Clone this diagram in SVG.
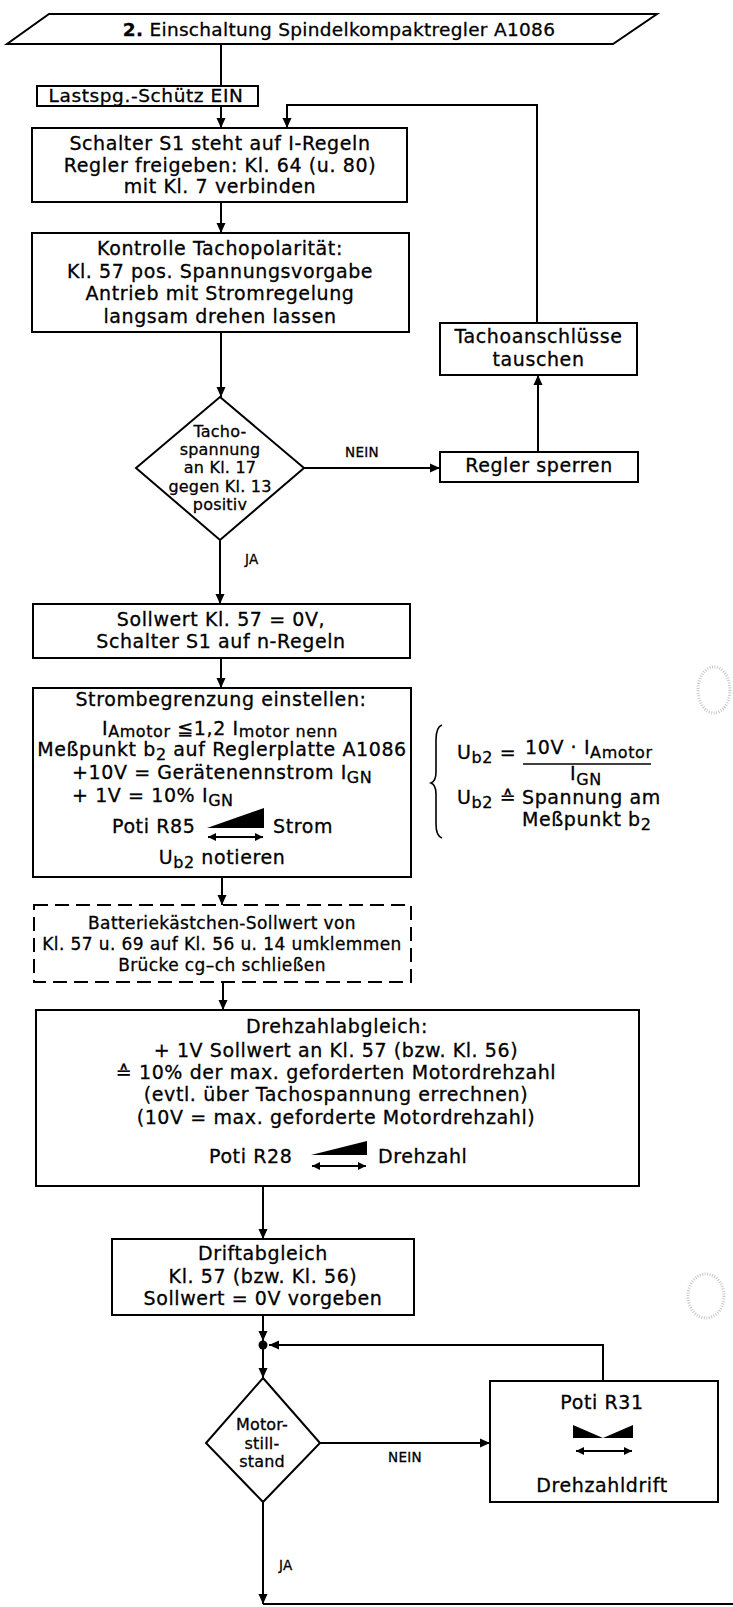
<svg xmlns="http://www.w3.org/2000/svg" width="733" height="1607" viewBox="0 0 733 1607">
<defs>
<style>
.bx{fill:#fff;stroke:#000;stroke-width:2}
.dash{stroke-dasharray:14 7}
.ln{fill:none;stroke:#000;stroke-width:2}
.t{font-family:"DejaVu Sans","Liberation Sans",sans-serif;font-size:19px;letter-spacing:0.6px;fill:#000;stroke:#000;stroke-width:0.3px;text-anchor:middle}
.s{text-anchor:start}
.sm{font-size:16px;letter-spacing:0.2px}
.lb{font-size:13.5px;letter-spacing:0.3px}
.dt{font-size:17px;letter-spacing:0.4px}
.sub{font-size:16px}
.ar{marker-end:url(#ah)}
.da{fill:none;stroke:#000;stroke-width:2;marker-start:url(#sa);marker-end:url(#sa)}
.hole{fill:none;stroke:#c8c8c8;stroke-width:3;stroke-dasharray:1 1.5}
</style>
<marker id="ah" viewBox="0 0 10 10" refX="10" refY="5" markerWidth="10" markerHeight="10" markerUnits="userSpaceOnUse" orient="auto"><path d="M0,0.5 L10,5 L0,9.5 z" fill="#000"/></marker>
<marker id="sa" viewBox="0 0 8 8" refX="8" refY="4" markerWidth="8" markerHeight="8" markerUnits="userSpaceOnUse" orient="auto-start-reverse"><path d="M0,0 L8,4 L0,8 z" fill="#000"/></marker>
</defs>
<rect width="733" height="1607" fill="#fff"/>

<g id="title">
<polygon class="bx" points="49,14 657,14 613,44 7,44"/>
<text class="t" x="339" y="36" style="font-size:18.5px;letter-spacing:0.3px"><tspan font-weight="bold">2.</tspan> Einschaltung Spindelkompaktregler A1086</text>
</g>

<g id="lastspg">
<rect class="bx" x="37" y="86" width="221" height="20"/>
<text class="t" x="146" y="101.5" style="font-size:18.5px">Lastspg.-Schütz EIN</text>
</g>

<g id="schalter">
<rect class="bx" x="32" y="128" width="375" height="74"/>
<text class="t" x="220" y="150">Schalter S1 steht auf I-Regeln</text>
<text class="t" x="220" y="172">Regler freigeben: Kl. 64 (u. 80)</text>
<text class="t" x="220" y="193">mit Kl. 7 verbinden</text>
</g>

<g id="kontrolle">
<rect class="bx" x="32" y="233" width="377" height="99"/>
<text class="t" x="220" y="255">Kontrolle Tachopolarität:</text>
<text class="t" x="220" y="278">Kl. 57 pos. Spannungsvorgabe</text>
<text class="t" x="220" y="300">Antrieb mit Stromregelung</text>
<text class="t" x="220" y="323">langsam drehen lassen</text>
</g>

<g id="tachoanschluesse">
<rect class="bx" x="440" y="323" width="197" height="52"/>
<text class="t" x="538.5" y="343">Tachoanschlüsse</text>
<text class="t" x="538.5" y="366">tauschen</text>
</g>

<g id="reglersperren">
<rect class="bx" x="440" y="452" width="198" height="30"/>
<text class="t" x="539" y="472">Regler sperren</text>
</g>

<g id="tachospannung">
<polygon class="bx" points="220,397 304,468 220,540 136,468"/>
<text class="t sm" x="220" y="437">Tacho-</text>
<text class="t sm" x="220" y="455">spannung</text>
<text class="t sm" x="220" y="473">an Kl. 17</text>
<text class="t sm" x="220" y="492">gegen Kl. 13</text>
<text class="t sm" x="220" y="510">positiv</text>
</g>

<g id="sollwert">
<rect class="bx" x="33" y="604" width="377" height="54"/>
<text class="t" x="221" y="626">Sollwert Kl. 57 = 0V,</text>
<text class="t" x="221" y="648">Schalter S1 auf n-Regeln</text>
</g>

<g id="strombegrenzung">
<rect class="bx" x="33" y="688" width="378" height="189"/>
<text class="t" x="221" y="706">Strombegrenzung einstellen:</text>
<text class="t" x="220" y="735">I<tspan class="sub" dy="2">Amotor</tspan><tspan dy="-2"> ≦1,2 I</tspan><tspan class="sub" dy="2">motor nenn</tspan></text>
<text class="t" x="222" y="756">Meßpunkt b<tspan class="sub" dy="4">2</tspan><tspan dy="-4"> auf Reglerplatte A1086</tspan></text>
<text class="t s" x="72" y="779">+10V = Gerätenennstrom I<tspan class="sub" dy="4">GN</tspan></text>
<text class="t s" x="72" y="802">+ 1V = 10% I<tspan class="sub" dy="4">GN</tspan></text>
<text class="t s" x="112" y="833">Poti R85</text>
<polygon points="207,828 264,808 264,828" fill="#000"/>
<line class="da" x1="208" y1="837" x2="263" y2="837"/>
<text class="t s" x="273" y="833">Strom</text>
<text class="t" x="222" y="864">U<tspan class="sub" dy="4">b2</tspan><tspan dy="-4"> notieren</tspan></text>
</g>

<g id="formel">
<path class="ln" style="stroke-width:1.6" d="M442,725 Q436,727 436,740 V772 Q436,781 431,783 Q436,785 436,794 V824 Q436,836 442,838"/>
<text class="t s" x="457" y="759">U<tspan class="sub" dy="4">b2</tspan><tspan dy="-4"> =</tspan></text>
<text class="t s" x="525" y="754">10V · I<tspan class="sub" dy="4">Amotor</tspan></text>
<line x1="523" y1="764" x2="651" y2="764" stroke="#000" stroke-width="1.5"/>
<text class="t s" x="570" y="780">I<tspan class="sub" dy="5">GN</tspan></text>
<text class="t s" x="457" y="804">U<tspan class="sub" dy="4">b2</tspan><tspan dy="-4"> ≙</tspan></text>
<text class="t s" x="522" y="804">Spannung am</text>
<text class="t s" x="522" y="826">Meßpunkt b<tspan class="sub" dy="4">2</tspan></text>
</g>

<g id="batteriekaestchen">
<rect class="bx dash" x="34" y="905" width="377" height="77"/>
<text class="t dt" x="222" y="929">Batteriekästchen-Sollwert von</text>
<text class="t dt" x="222" y="950">Kl. 57 u. 69 auf Kl. 56 u. 14 umklemmen</text>
<text class="t dt" x="222" y="971">Brücke cg–ch schließen</text>
</g>

<g id="drehzahlabgleich">
<rect class="bx" x="36" y="1010" width="603" height="176"/>
<text class="t" x="337" y="1033">Drehzahlabgleich:</text>
<text class="t" x="336" y="1057">+ 1V Sollwert an Kl. 57 (bzw. Kl. 56)</text>
<text class="t" x="336" y="1079">≙ 10% der max. geforderten Motordrehzahl</text>
<text class="t" x="336" y="1101">(evtl. über Tachospannung errechnen)</text>
<text class="t" x="336" y="1124">(10V = max. geforderte Motordrehzahl)</text>
<text class="t s" x="209" y="1163">Poti R28</text>
<polygon points="311,1155 367,1141 367,1155" fill="#000"/>
<line class="da" x1="312" y1="1166" x2="366" y2="1166"/>
<text class="t s" x="378" y="1163">Drehzahl</text>
</g>

<g id="driftabgleich">
<rect class="bx" x="112" y="1239" width="302" height="76"/>
<text class="t" x="263" y="1260">Driftabgleich</text>
<text class="t" x="263" y="1283">Kl. 57 (bzw. Kl. 56)</text>
<text class="t" x="263" y="1305">Sollwert = 0V vorgeben</text>
</g>

<g id="motorstillstand">
<polygon class="bx" points="263,1378 320,1443 263,1502 206,1443"/>
<text class="t sm" x="262" y="1430">Motor-</text>
<text class="t sm" x="262" y="1449">still-</text>
<text class="t sm" x="262" y="1467">stand</text>
</g>

<g id="potiR31">
<rect class="bx" x="490" y="1381" width="228" height="121"/>
<text class="t" x="602" y="1409">Poti R31</text>
<polygon points="573,1425 603,1438 633,1425 633,1438 573,1438" fill="#000"/>
<line class="da" x1="576" y1="1451" x2="632" y2="1451"/>
<text class="t" x="602" y="1492">Drehzahldrift</text>
</g>

<g id="connectors">
<path class="ln" d="M221,44 V86"/>
<path class="ln ar" d="M221,106 V128"/>
<path class="ln ar" d="M537,323 V105 H287 V128"/>
<path class="ln ar" d="M221,202 V233"/>
<path class="ln ar" d="M221,332 V397"/>
<path class="ln ar" d="M304,468 H440"/>
<text class="t lb s" x="345" y="457">NEIN</text>
<path class="ln ar" d="M538,452 V375"/>
<path class="ln ar" d="M220,540 V604"/>
<text class="t lb s" x="245" y="564">JA</text>
<path class="ln ar" d="M221,658 V688"/>
<path class="ln ar" d="M222,877 V905"/>
<path class="ln ar" d="M223,982 V1010"/>
<path class="ln ar" d="M263,1186 V1239"/>
<path class="ln ar" d="M263,1315 V1341"/>
<circle cx="263" cy="1345" r="4.5" fill="#000"/>
<path class="ln ar" d="M263,1349 V1378"/>
<path class="ln ar" d="M603,1381 V1345 H269"/>
<path class="ln ar" d="M320,1443 H490"/>
<text class="t lb s" x="388" y="1462">NEIN</text>
<path class="ln ar" d="M263,1502 V1604"/>
<text class="t lb s" x="279" y="1570">JA</text>
<path class="ln" d="M263,1604 H733"/>
</g>

<g id="lochung">
<ellipse class="hole" cx="714" cy="690" rx="16" ry="23"/>
<ellipse class="hole" cx="706" cy="1296" rx="18" ry="22"/>
</g>
</svg>
